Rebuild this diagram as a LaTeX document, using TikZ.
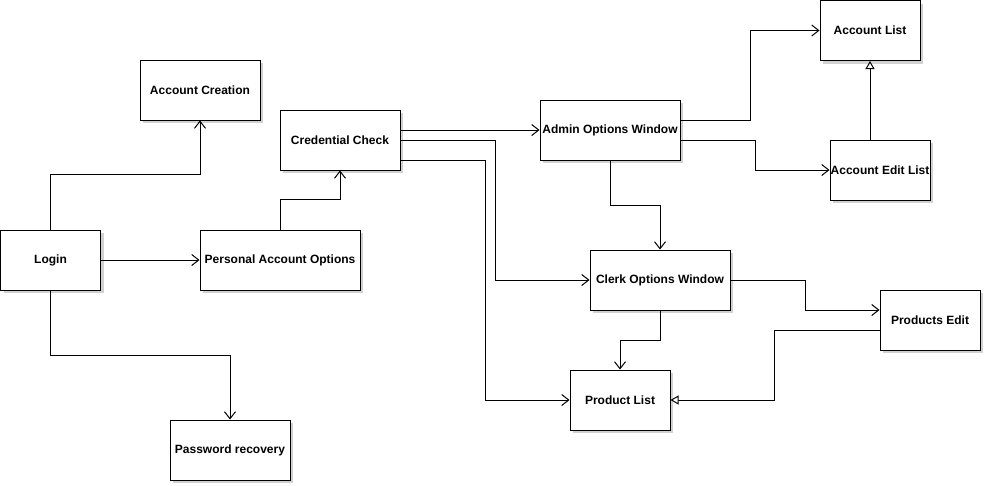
\documentclass[tikz,border=0pt]{standalone}
\usepackage{fontspec}
\setmainfont{Liberation Sans}
\usetikzlibrary{arrows.meta,shadows}
\begin{document}
\begin{tikzpicture}[x=1pt,y=-1pt,
  box/.style={draw=black, line width=1pt, fill=white, rectangle, inner sep=0pt,
    font=\fontsize{12}{14}\selectfont\bfseries,
    drop shadow={shadow xshift=3pt, shadow yshift=-3pt, fill=black!18, opacity=1}},
  arr/.style={draw=black, line width=1pt, -{Straight Barb[length=7pt,width=11pt,line width=1pt]}},
  tri/.style={draw=black, line width=1pt, -{Triangle[open,length=8pt,width=9pt,line width=1pt,fill=white]}}]
\useasboundingbox (0,0) rectangle (985,485);
\fill[white] (0,0) rectangle (985,485);
% nodes
\node[box, minimum width=120pt, minimum height=60pt] (ac) at (200,90) {Account Creation};
\node[box, minimum width=120pt, minimum height=60pt] (cc) at (340,140) {Credential Check};
\node[box, minimum width=100pt, minimum height=60pt] (login) at (50.5,260) {Login};
\node[box, minimum width=160pt, minimum height=60pt] (pao) at (280,260) {Personal Account Options};
\node[box, minimum width=120pt, minimum height=60pt] (pr) at (230,450) {Password recovery};
\node[box, minimum width=140pt, minimum height=60pt] (aow) at (610,130) {Admin Options Window};
\node[box, minimum width=100pt, minimum height=60pt] (al) at (870,30.5) {Account List};
\node[box, minimum width=100pt, minimum height=60pt] (ael) at (880,170) {Account Edit List};
\node[box, minimum width=140pt, minimum height=60pt] (cow) at (660,280) {Clerk Options Window};
\node[box, minimum width=100pt, minimum height=60pt] (pe) at (930,320) {Products Edit};
\node[box, minimum width=100pt, minimum height=60pt] (pl) at (620,400) {Product List};
% connectors
\draw[arr] (login.north) -- ++(0,-55) -| (ac.south);
\draw[arr] (login.east) -- (pao.west);
\draw[arr] (login.south) -- ++(0,65) -| (pr.north);
\draw[arr] (pao.north) -- ++(0,-30) -| (cc.south);
\draw[arr] ([yshift=10pt]cc.east) -- (aow.west);
\draw[arr] (cc.east) -- ++(95,0) |- (cow.west);
\draw[arr] ([yshift=-20pt]cc.east) -- ++(85,0) |- (pl.west);
\draw[arr] ([yshift=10pt]aow.east) -- ++(70,0) |- (al.west);
\draw[arr] ([yshift=-10pt]aow.east) -- ++(75,0) |- (ael.west);
\draw[tri] ([xshift=-10pt]ael.north) -- ([xshift=-10pt]ael.north |- al.south);
\draw[arr] (aow.south) -- ++(0,45) -| (cow.north);
\draw[arr] (cow.east) -- ++(75,0) |- ([yshift=10pt]pe.west);
\draw[arr] (cow.south) -- ++(0,30) -| (pl.north);
\draw[tri] ([yshift=-10pt]pe.west) -- ++(-105,0) |- (pl.east);
\end{tikzpicture}
\end{document}
